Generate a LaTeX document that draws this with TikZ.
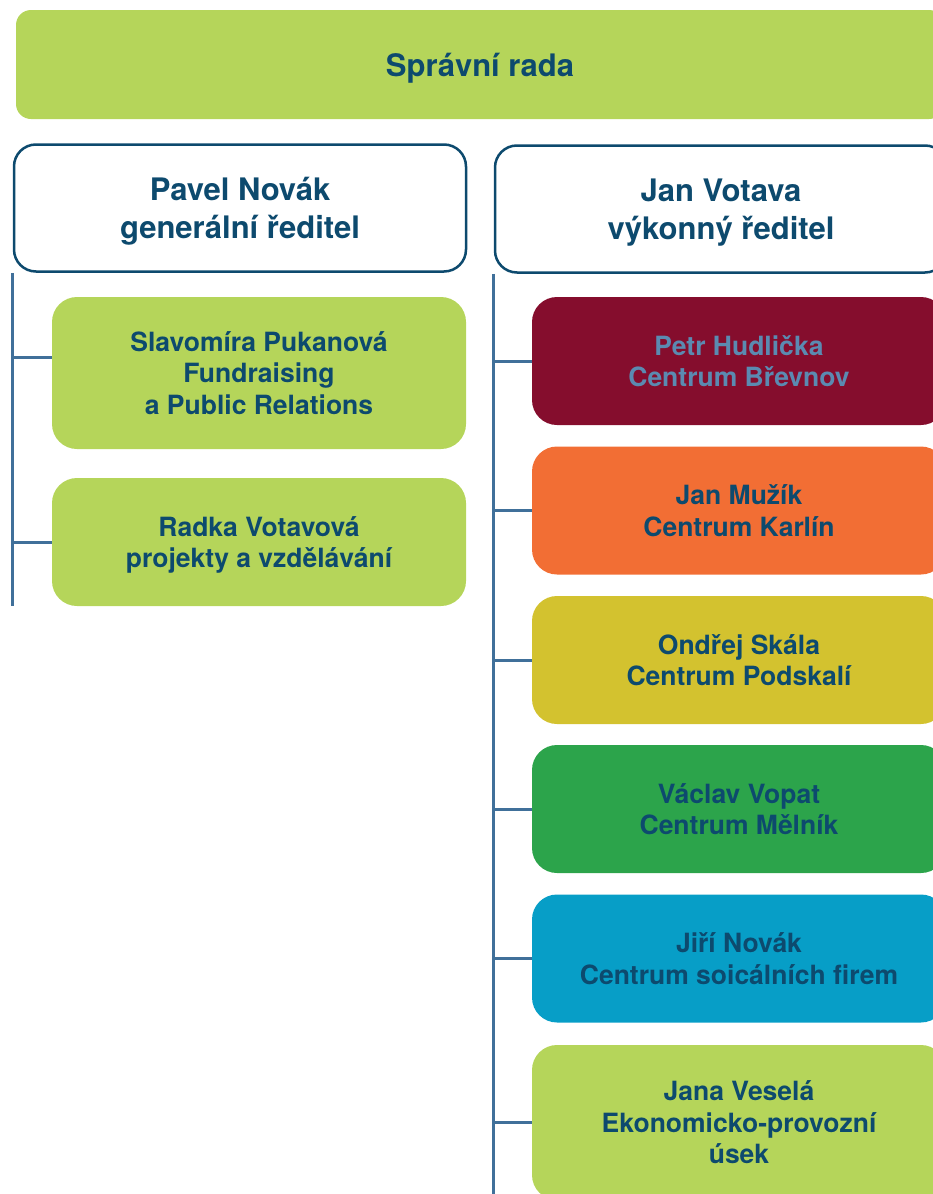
\documentclass[tikz,border=0pt]{standalone}
\usepackage{fontspec}
\setmainfont{TeX Gyre Heros}
\definecolor{navy}{HTML}{0D4A6E}
\definecolor{steel}{HTML}{40709A}
\definecolor{lime}{HTML}{B5D55A}
\definecolor{wine}{HTML}{850D2D}
\definecolor{fadeblue}{HTML}{5B8AB1}
\definecolor{carrot}{HTML}{F26E34}
\definecolor{mustard}{HTML}{D3C22F}
\definecolor{leaf}{HTML}{2CA44B}
\definecolor{sea}{HTML}{079EC7}
\begin{document}
\begin{tikzpicture}[x=1pt, y=-1pt,
        board node/.style={fill=lime, rounded corners=15pt, minimum width=928pt, minimum height=109pt, inner sep=0pt,
            text depth=0pt, text=navy, font=\fontsize{31}{38}\selectfont\bfseries},
        head node/.style={draw=navy, line width=2.5pt, fill=white, rounded corners=22pt, minimum width=452pt,
            minimum height=127pt, inner sep=0pt, text depth=0pt, align=center, text=navy,
            font=\fontsize{31}{38}\selectfont\bfseries},
        sub node/.style={rounded corners=25pt, minimum width=414pt, minimum height=128pt, inner sep=0pt,
            text depth=0pt, align=center, text=navy, font=\fontsize{26.5}{31.5}\selectfont\bfseries},
        trunk/.style={draw=steel, line width=3pt}]
    \clip (0,0) rectangle (933,1194);
    \node[board node] (sr) at (480,64.5) {Správní rada};
    \node[head node] (pn) at (240,208) {Pavel Novák\\generální ředitel};
    \node[head node] (jv) at (721,209) {Jan Votava\\výkonný ředitel};
    % left column
    \node[sub node, fill=lime, minimum height=152pt] (sp) at (259,373) {Slavomíra Pukanová\\Fundraising\\a Public Relations};
    \node[sub node, fill=lime] (rv) at (259,542) {Radka Votavová\\projekty a vzdělávání};
    % right column
    \node[sub node, fill=wine, text=fadeblue] (ph) at (739,361) {Petr Hudlička\\Centrum Břevnov};
    \node[sub node, fill=carrot] (jm) at (739,510.5) {Jan Mužík\\Centrum Karlín};
    \node[sub node, fill=mustard] (os) at (739,660) {Ondřej Skála\\Centrum Podskalí};
    \node[sub node, fill=leaf] (vv) at (739,809) {Václav Vopat\\Centrum Mělník};
    \node[sub node, fill=sea] (jn) at (739,958.5) {Jiří Novák\\Centrum soicálních firem};
    \node[sub node, fill=lime, minimum height=155pt] (jve) at (739,1122.5) {Jana Veselá\\Ekonomicko-provozní\\úsek};
    \coordinate (sp-in) at ([yshift=16pt]sp.west);
    \coordinate (bottom) at (494,1200);
    \draw[trunk] (pn.south west) -- (pn.south west |- rv.south);
    \draw[trunk] (sp-in) -- (pn.south west |- sp-in);
    \draw[trunk] (rv.west) -- (pn.south west |- rv.west);
    \draw[trunk] (jv.south west) -- (jv.south west |- bottom);
    \foreach \n in {ph,jm,os,vv,jn,jve}
        \draw[trunk] (\n.west) -- (jv.south west |- \n.west);
\end{tikzpicture}
\end{document}
